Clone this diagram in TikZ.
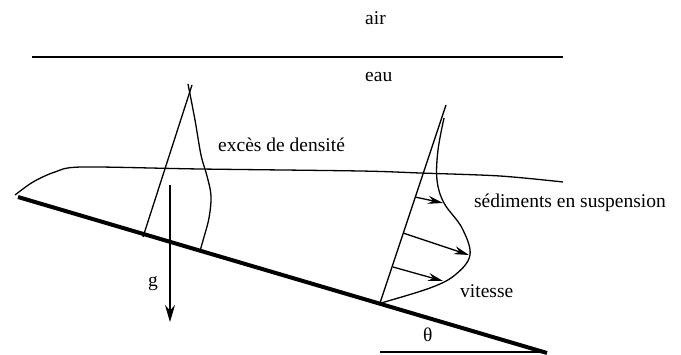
\documentclass[tikz,border=0pt]{standalone}
\usepackage{fontspec}
\setmainfont{Liberation Serif}
\usetikzlibrary{arrows.meta}
\begin{document}
\begin{tikzpicture}[x=1pt,y=-1pt,
  lbl/.style={inner sep=0pt,font=\fontsize{19.5}{22}\selectfont},
  thin/.style={line width=1.3pt},
  bed/.style={line width=4pt},
  vel/.style={line width=1.3pt,-{Stealth[length=15pt,width=8pt]}}]
\useasboundingbox (0,0) rectangle (681,355);
% labels
\node[lbl,anchor=base west] (air) at (365,25) {air};
\node[lbl,anchor=base west] (eau) at (365,82) {eau};
\node[lbl,anchor=base west] (exc) at (218,152) {excès de densité};
\node[lbl,anchor=base east] (sed) at (666,208) {sédiments en suspension};
\node[lbl,anchor=base west] (vit) at (460,298) {vitesse};
\node[lbl,anchor=base west] (g) at (148,287) {g};
\node[lbl,anchor=base west] (th) at (423,342) {θ};
% surface
\coordinate (s1) at (32,57); \coordinate (s2) at (563,57);
\draw[thin] (s1) -- (s2);
% bed
\coordinate (b1) at (18,197); \coordinate (b2) at (547,353);
\draw[bed] (b1) -- (b2);
\coordinate (h1) at (380,352); \coordinate (h2) at (540,352);
\draw[thin] (h1) -- (h2);
% current outline
\draw[thin] plot[smooth,tension=0.5] coordinates {(15,195) (33,182) (55,172) (82,167) (200,169) (360,171) (420,173) (500,176) (563,182)};
% left profile
\coordinate (l1) at (143,237); \coordinate (l2) at (192,85);
\draw[thin] (l1) -- (l2);
\draw[thin] plot[smooth,tension=0.6] coordinates {(188,84) (195,120) (201,155) (207,176) (211,196) (209,218) (204,237) (200,251)};
% gravity
\coordinate (g1) at (170,185); \coordinate (g2) at (170,322);
\draw[line width=1.3pt,-{Stealth[length=17pt,width=10pt]}] (g1) -- (g2);
% right profile
\coordinate (r1) at (380,303); \coordinate (r2) at (446,105);
\draw[thin] (r1) -- (r2);
\draw[thin] plot[smooth,tension=0.6] coordinates {(444,118) (438,150) (437,180) (444,203) (462,228) (470,255) (455,275) (430,288) (381,303)};
\coordinate (a1) at (415,197); \coordinate (a2) at (443,203);
\coordinate (c1) at (403,233); \coordinate (c2) at (469,255);
\coordinate (d1) at (393,267); \coordinate (d2) at (443,281);
\draw[vel] (a1) -- (a2);
\draw[vel] (c1) -- (c2);
\draw[vel] (d1) -- (d2);
\end{tikzpicture}
\end{document}
